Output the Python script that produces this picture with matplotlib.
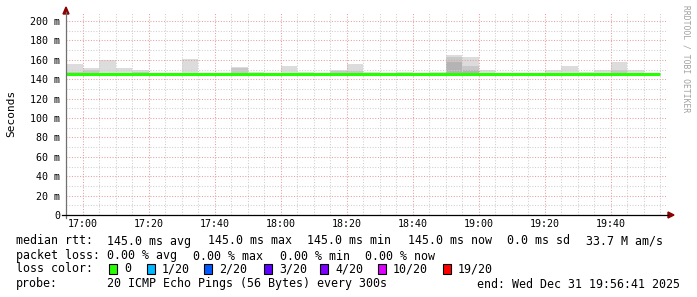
import matplotlib
matplotlib.use('Agg')

import matplotlib.pyplot as plt
from matplotlib.patches import Polygon, Rectangle
import numpy as np

# 5 minute steps (start of each step)
steps = ['16:55', '17:00', '17:05', '17:10', '17:15', '17:20', '17:25', '17:30',
         '17:35', '17:40', '17:45', '17:50', '17:55', '18:00', '18:05', '18:10',
         '18:15', '18:20', '18:25', '18:30', '18:35', '18:40', '18:45', '18:50',
         '18:55', '19:00', '19:05', '19:10', '19:15', '19:20', '19:25', '19:30',
         '19:35', '19:40', '19:45', '19:50']

# median rtt in ms
median = [145.0] * 36

# smoke: max ping, upper band and dense band (ms)
ping_max = [156, 152, 160, 152, 149.5, 145, 145, 161, 145, 145, 153, 147.5,
            145, 154, 147, 146, 149, 156, 147.5, 145, 147.5, 145, 147.5, 165.3,
            163.2, 149.5, 145, 145, 145, 149.5, 154, 147, 149.5, 158, 149.5, 145.5]
ping_hi = [147, 149.5, 146, 146, 147, 145, 145, 146, 145, 145, 152, 146,
           145, 146, 146, 145, 148, 148, 146, 145, 146, 145, 146, 162.5,
           154, 146, 145, 145, 145, 146, 146, 146, 146, 149.5, 146, 145]
ping_mid = [145, 146.7, 145, 145, 145, 145, 145, 145, 145, 145, 145, 145,
            145, 145, 145, 145, 145, 145, 145, 145, 145, 145, 145, 157.7,
            149.5, 145, 145, 145, 145, 145, 145, 145, 145, 145, 145, 145]

x_ticks = ['17:00', '17:20', '17:40', '18:00', '18:20', '18:40', '19:00', '19:20', '19:40']
y_ticks = [0, 20, 40, 60, 80, 100, 120, 140, 160, 180, 200]

loss_labels = ['0', '1/20', '2/20', '3/20', '4/20', '10/20', '19/20']
loss_colors = ['#26ff00', '#00b8ff', '#0059ff', '#5e00ff', '#7e00ff', '#dd00ff', '#ff0000']


def minutes(s):
    h, m = s.split(':')
    return (int(h) - 17) * 60 + int(m)


W, H = 697, 297
fig = plt.figure(figsize=(W / 100, H / 100), dpi=100)
fig.patch.set_facecolor('white')

x0, x1, yb, yt = 66, 666, 215, 12
ax = fig.add_axes([x0 / W, 1 - yb / H, (x1 - x0) / W, (yb - yt) / H])
ax.set_xlim(-3 - 19 / 60, 176 + 41 / 60)
ax.set_ylim(0, (yb - yt) / 0.97)
for s in ax.spines.values():
    s.set_visible(False)

edges = [minutes(s) for s in steps] + [minutes(steps[-1]) + 5]
ax.stairs(ping_max, edges, baseline=145, fill=True, color='#dcdcdc', lw=0, zorder=1)
ax.stairs(ping_hi, edges, baseline=145, fill=True, color='#c8c8c8', lw=0, zorder=1.1)
ax.stairs(ping_mid, edges, baseline=145, fill=True, color='#b4b4b4', lw=0, zorder=1.2)
ax.stairs(median, edges, baseline=None, color='#26ff00', lw=2.2, zorder=4)

# grid
ax.set_xticks([minutes(t) for t in x_ticks])
ax.set_xticklabels(x_ticks)
ax.set_xticks(np.arange(-5, 180, 5), minor=True)
ax.set_yticks(y_ticks)
ax.set_yticklabels([f'{v} m' if v else '0' for v in y_ticks])
ax.set_yticks(np.arange(0, 210, 10), minor=True)
ax.grid(which='minor', color='#cfcfcf', ls=(0, (1, 1.6)), lw=0.75, zorder=2)
ax.grid(which='major', color='#e5a0a0', ls=(0, (1, 1.6)), lw=0.75, zorder=2.1)
ax.set_axisbelow(False)
ax.tick_params(which='both', length=0, labelsize=7.2, pad=4)
ax.tick_params(axis='x', pad=3)
for lab in ax.get_xticklabels() + ax.get_yticklabels():
    lab.set_family('DejaVu Sans Mono')

# axes lines and arrows
fig.add_artist(plt.Line2D([x0 / W, x0 / W], [1 - 218 / H, 1 - 12 / H], color='#707070', lw=0.9))
fig.add_artist(plt.Line2D([62 / W, 668 / W], [1 - yb / H, 1 - yb / H], color='black', lw=0.9))
fig.add_artist(Polygon([(x0 / W, 1 - 7 / H), (63 / W, 1 - 14 / H), (69 / W, 1 - 14 / H)],
                       closed=True, color='#8b0000', transform=fig.transFigure))
fig.add_artist(Polygon([(674 / W, 1 - yb / H), (668 / W, 1 - 212 / H), (668 / W, 1 - 218 / H)],
                       closed=True, color='#8b0000', transform=fig.transFigure))

mono = 'DejaVu Sans Mono'
fig.text(11 / W, 1 - 113 / H, 'Seconds', rotation=90, family=mono, size=8,
         ha='center', va='center')
fig.text(686 / W, 1 - 5 / H, 'RRDTOOL / TOBI OETIKER', rotation=270, family=mono,
         size=5.8, color='#a0a0a0', ha='center', va='top')

fs = 8.4
rows = [241, 256, 269, 284]
fig.text(16 / W, 1 - rows[0] / H, 'median rtt:', family=mono, size=fs, va='center')
for x, t in [(107, '145.0 ms avg'), (208, '145.0 ms max'), (307, '145.0 ms min'),
             (408, '145.0 ms now'), (507, '0.0 ms sd'), (586, '33.7 M am/s')]:
    fig.text(x / W, 1 - rows[0] / H, t, family=mono, size=fs, va='center')

fig.text(16 / W, 1 - rows[1] / H, 'packet loss:', family=mono, size=fs, va='center')
for x, t in [(107, '0.00 % avg'), (193, '0.00 % max'), (280, '0.00 % min'), (365, '0.00 % now')]:
    fig.text(x / W, 1 - rows[1] / H, t, family=mono, size=fs, va='center')

fig.text(16 / W, 1 - rows[2] / H, 'loss color:', family=mono, size=fs, va='center')
box_x = [109, 147, 204, 264, 320, 378, 443]
for bx, lab, col in zip(box_x, loss_labels, loss_colors):
    fig.add_artist(Rectangle((bx / W, 1 - (rows[2] + 5) / H), 8 / W, 10 / H,
                             facecolor=col, edgecolor='black', lw=0.8,
                             transform=fig.transFigure))
    fig.text((bx + 15) / W, 1 - rows[2] / H, lab, family=mono, size=fs, va='center')

fig.text(16 / W, 1 - rows[3] / H, 'probe:', family=mono, size=fs, va='center')
fig.text(107 / W, 1 - rows[3] / H, '20 ICMP Echo Pings (56 Bytes) every 300s',
         family=mono, size=fs, va='center')
fig.text(680 / W, 1 - rows[3] / H, 'end: Wed Dec 31 19:56:41 2025',
         family=mono, size=fs, va='center', ha='right')

fig.savefig('out.png', dpi=100)
